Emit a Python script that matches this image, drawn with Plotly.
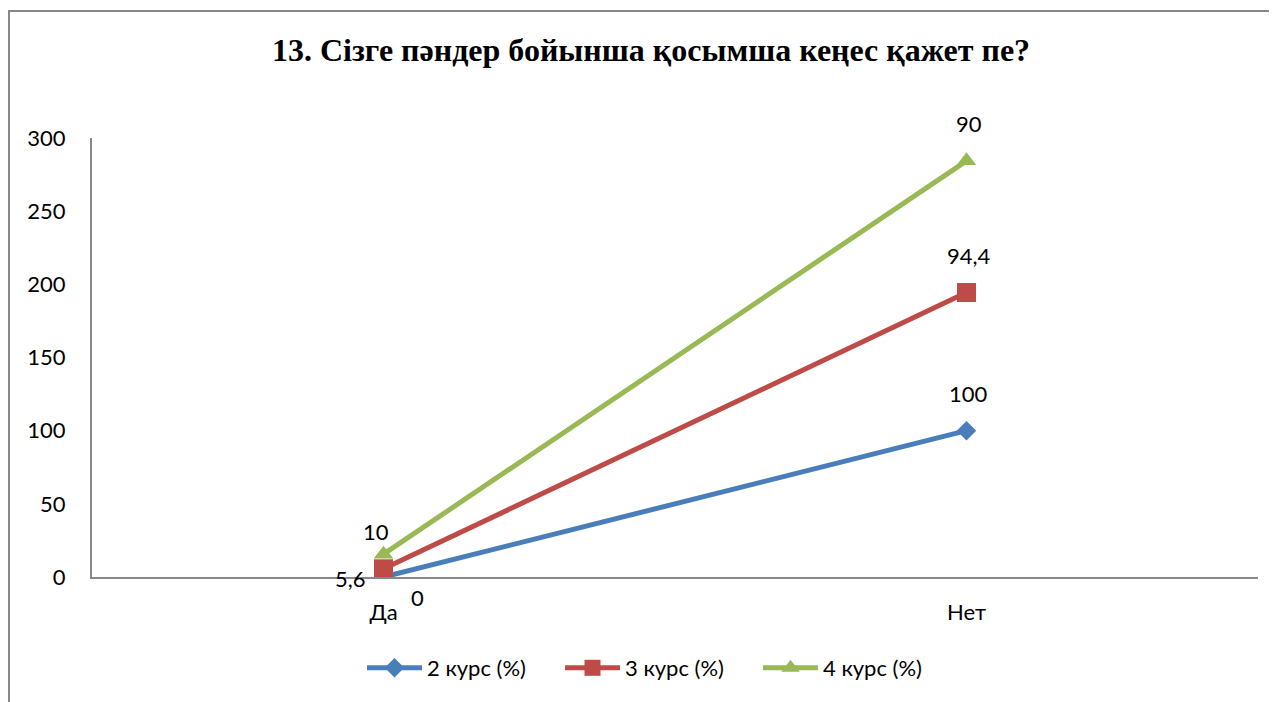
import plotly.graph_objects as go

categories = ["Да", "Нет"]
series_names = ["2 курс (%)", "3 курс (%)", "4 курс (%)"]
kurs2 = [0, 100]
kurs3 = [5.6, 94.4]
kurs4 = [10, 90]
y_ticks = [0, 50, 100, 150, 200, 250, 300]

colors = ["#4A7EBB", "#BE4B48", "#98B954"]
symbols = ["diamond", "square", "triangle-up"]
msizes = [15, 19, 17]

# the page body has an 8px margin, so positions are offset by -8
OFF = 8
W, H = 1277 - OFF, 702 - OFF
L, R, T, B = 92 - OFF, 1258 - OFF, 138 - OFF, 577 - OFF
FONT = "Lato"
FS = 22

fig = go.Figure()
all_vals = [kurs2, kurs3, kurs4]
for name, vals, c, s, ms in zip(series_names, all_vals, colors, symbols, msizes):
    fig.add_trace(go.Scatter(
        x=categories, y=vals, name=name, mode="lines+markers",
        stackgroup="one", fill="none",
        line=dict(color=c, width=5),
        marker=dict(symbol=s, size=ms, color=c),
        hoverinfo="skip",
    ))

# data labels (raw values at stacked positions)
label_shift = [
    [(34, -20), (2, 37)],
    [(-33, -10), (2, 37)],
    [(-8, 23), (2, 37)],
]
cum = [0, 0]
for vals, shifts in zip(all_vals, label_shift):
    for i, v in enumerate(vals):
        cum[i] += v
        txt = f"{v:g}".replace(".", ",")
        fig.add_annotation(x=categories[i], y=cum[i], text=txt, showarrow=False,
                           xshift=shifts[i][0], yshift=shifts[i][1],
                           font=dict(family=FONT, size=FS, color="#000000"))

pw = R - L
ph = B - T
def px(x):
    return (x - L) / pw
def py(y):
    return (B - y) / ph

fig.add_shape(type="rect", xref="paper", yref="paper",
              x0=px(1), x1=px(1300), y0=py(720), y1=py(3),
              line=dict(color="#888888", width=2), fillcolor="rgba(0,0,0,0)", layer="below")

fig.update_layout(
    width=W, height=H,
    margin=dict(l=L, r=W - R, t=T, b=H - B, autoexpand=False),
    paper_bgcolor="white", plot_bgcolor="white",
    title=dict(text="<b>13. Сізге пәндер бойынша қосымша кеңес қажет пе?</b>",
               x=(651 - OFF) / W, xanchor="center", y=1 - (50 - OFF) / H, yanchor="middle",
               font=dict(family="Liberation Serif, Times New Roman, serif",
                         size=32, color="#000000")),
    showlegend=True,
    legend=dict(orientation="h", x=(362 - OFF) / W, xref="container", xanchor="left",
                y=1 - (668 - OFF) / H, yref="container", yanchor="middle",
                font=dict(family=FONT, size=FS, color="#000000"),
                itemwidth=55, entrywidth=128, traceorder="normal"),
    font=dict(family=FONT, size=FS, color="#000000"),
)
fig.update_xaxes(range=[-0.5, 1.5], showline=True, linecolor="#888888", linewidth=2,
                 showgrid=False, zeroline=False, ticks="", ticklabelstandoff=15,
                 tickfont=dict(family=FONT, size=FS, color="#000000"), fixedrange=True)
fig.update_yaxes(range=[0, 300], tickvals=y_ticks, showline=True, linecolor="#888888", linewidth=2,
                 showgrid=False, zeroline=False, ticks="", ticklabelstandoff=20,
                 tickfont=dict(family=FONT, size=FS, color="#000000"), fixedrange=True)

fig.write_html("out.html")
